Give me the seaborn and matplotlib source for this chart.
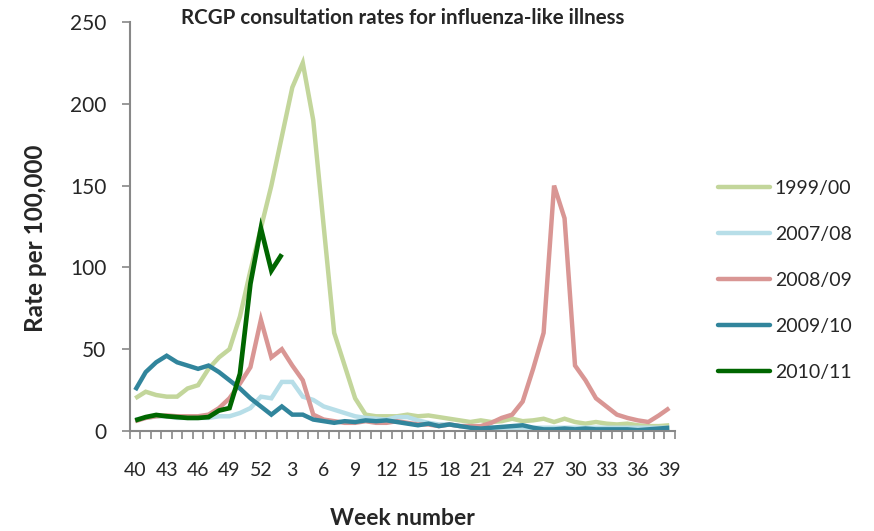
import matplotlib
matplotlib.use("Agg")
import matplotlib.pyplot as plt
import seaborn as sns
import numpy as np
import pandas as pd
from matplotlib.ticker import FixedLocator, NullFormatter

weeks = list(range(40, 53)) + list(range(1, 40))

s1999 = [20, 24, 22, 21, 21, 26, 28, 38, 45, 50, 70, 98, 124, 150, 180, 210, 225, 190, 125, 60,
         40, 20, 10, 9, 9, 9, 10, 9, 9.5, 8.5, 7.5, 6.5, 5.5, 6.5, 5.5, 6, 7.5, 6, 6.5, 7.5,
         5.5, 7.5, 5.5, 4.5, 5.5, 4.5, 4, 4.5, 3.5, 3, 3, 3.5]
s2007 = [7, 8, 9, 9, 8, 8, 8, 8, 9, 9, 11, 14, 21, 20, 30, 30, 21, 19, 15, 13,
         11, 9, 8, 7.5, 7, 8.5, 8.5, 6.5, 5, 4, 4, 3, 3, 2.5, 2, 2, 2, 2, 2, 2,
         2, 2, 2, 2, 2, 2, 2, 2, 2, 2, 2, 2]
s2008 = [6, 8, 9, 9.5, 9, 9, 9, 10, 14, 20, 29, 39, 68, 45, 50, 40, 31, 10, 7, 6,
         5, 5, 6, 5, 5, 6, 5, 4, 4, 3, 4, 3, 3, 3, 5, 8, 10, 18, 38, 60,
         150, 130, 40, 31, 20, 15, 10, 8, 6.5, 5.5, 9.5, 14]
s2009 = [25, 36, 42, 46, 42, 40, 38, 40, 36, 31, 26, 20, 15, 10, 15, 10, 10, 7, 6, 5,
         6, 5.5, 6.5, 6, 6.5, 5.5, 4.5, 3.5, 4.5, 3, 4, 3, 2, 1.5, 2, 2.5, 3, 3.5, 2, 1,
         1, 1.5, 1, 1.5, 1, 1, 1, 1, 0.5, 1, 1.5, 2]
s2010 = [6.5, 8.5, 9.8, 9, 8.5, 8, 8, 8.5, 12.5, 14, 35, 90, 124, 98, 108] + [np.nan] * 37

seasons = ["1999/00", "2007/08", "2008/09", "2009/10", "2010/11"]
series = [s1999, s2007, s2008, s2009, s2010]
colors = ["#C3D69B", "#B7DEE8", "#D99694", "#31859C", "#006600"]

rows = []
for name, vals in zip(seasons, series):
    for i, v in enumerate(vals):
        rows.append({"idx": i, "week": weeks[i], "season": name, "rate": v})
df = pd.DataFrame(rows)

sns.set_style("white")
plt.rcParams["font.family"] = ["Lato", "DejaVu Sans"]

fig = plt.figure(figsize=(8.74, 5.31), dpi=100)
ax = fig.add_axes([130 / 874, 1 - 431 / 531, (674.5 - 130) / 874, (431 - 22) / 531])

sns.lineplot(data=df, x="idx", y="rate", hue="season", hue_order=seasons,
             palette=dict(zip(seasons, colors)), linewidth=3.2, ax=ax,
             legend=False, estimator=None, sort=False)
for line, c in zip(ax.get_lines(), colors):
    line.set_solid_capstyle("butt")
    line.set_solid_joinstyle("miter")
    if c == "#006600":
        line.set_linewidth(3.4)

ax.set_xlim(-0.5, 51.5)
ax.set_ylim(0, 250)
ax.set_yticks([0, 50, 100, 150, 200, 250])
major_idx = list(range(0, 52, 3))
ax.set_xticks(major_idx)
ax.set_xticklabels([str(weeks[i]) for i in major_idx])
ax.xaxis.set_minor_locator(FixedLocator(np.arange(-0.5, 52, 1)))
ax.xaxis.set_minor_formatter(NullFormatter())
ax.tick_params(axis="x", which="major", length=0, pad=22, labelsize=14)
ax.tick_params(axis="x", which="minor", length=6, width=1.2, color="#888888", bottom=True)
ax.tick_params(axis="y", which="major", length=6, width=1.2, color="#888888", pad=11,
               labelsize=15, left=True)

for side in ["top", "right"]:
    ax.spines[side].set_visible(False)
for side in ["left", "bottom"]:
    ax.spines[side].set_color("#888888")
    ax.spines[side].set_linewidth(1.5)

ax.set_xlabel("Week number", fontsize=16.5, fontweight="bold", labelpad=21)
ax.set_ylabel("Rate per 100,000", fontsize=17.5, fontweight="bold")
ax.yaxis.set_label_coords((47 - 130) / 544.5, (431 - 238) / 409)
fig.text(403 / 874, 1 - 18 / 531, "RCGP consultation rates for influenza-like illness",
         ha="center", va="center", fontsize=14.8, fontweight="bold")

handles = [plt.Line2D([], [], color=c, linewidth=3.2) for c in colors]
fig.legend(handles, seasons, loc="upper left", bbox_to_anchor=(700 / 874, 1 - 162 / 531),
           frameon=False, fontsize=14, handlelength=2.7, handletextpad=0.25,
           labelspacing=1.5)

fig.savefig("out.png", dpi=100)
